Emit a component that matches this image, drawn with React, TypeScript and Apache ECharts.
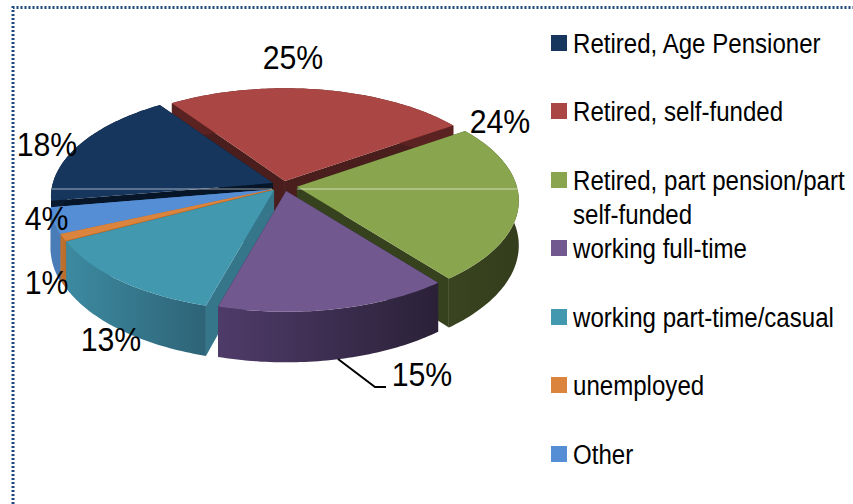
import React, { useEffect, useRef } from "react";
import * as echarts from "echarts";

const categories = [
  "Retired, Age Pensioner",
  "Retired, self-funded",
  "Retired, part pension/part\nself-funded",
  "working full-time",
  "working part-time/casual",
  "unemployed",
  "Other",
];
const shares = [18, 25, 24, 15, 13, 1, 4];

const topColors = ["#17365D", "#AA4643", "#89A54E", "#71588F", "#4198AF", "#DB843D", "#558ED5"];
const wallColors = ["#061628", "#4A1E1C", "#36411E", "#2E2440", "#35768A", "#B96C2C", "#4A7CB8"];
const outerLeft = ["#0A1A30", "#5A2220", "#3A4420", "#4F3B69", "#3C8AA0", "#C0722F", "#4A7CB8"];
const outerRight = ["#0A1A30", "#5A2220", "#343D1C", "#2A2138", "#2E6377", "#B96C2C", "#4A7CB8"];
const paintOrder = [1, 0, 2, 6, 5, 4, 3];
const labelCentres: number[][] = [
  [47, 144], [293, 57], [500, 121], [422, 374], [111, 339], [46.5, 282], [46.5, 218],
];
const legendRows = [43, 111, 180, 248, 317, 385, 454];
const sliceNudge: number[][] = [[-1, -1], [-1, 0], [2, 0], [0, 0], [-3, 0], [-1, 1], [-1, 2]];

const START = 260.5;
const CX = 284, CY = 186, RX = 220, RY = 105, K = 0.131, DEPTH = 44, EX = 11, EY = 5;
const FONT = "Liberation Sans, Arial, sans-serif";
const LEGEND_SQUEEZE = 0.86;
const LABEL_SQUEEZE = 0.89;

const total = shares.reduce((a, b) => a + b, 0);
const startAngles: number[] = [];
shares.reduce((acc, v, i) => {
  startAngles[i] = acc;
  return acc + (v / total) * 360;
}, START);

function project(deg: number, r: number, ox: number, oy: number, drop: boolean) {
  const a = (deg * Math.PI) / 180;
  const u = Math.sin(a) * r;
  const v = Math.cos(a) * r;
  const p = 1 / (1 + K * v);
  return [CX + ox + RX * u * p, CY + oy - RY * v * p + (drop ? DEPTH * p : 0)];
}

function renderSlice(params: any, api: any) {
  const i = params.dataIndex;
  const value = api.value(1);
  const sweep = (value / total) * 360;
  const a0 = startAngles[i];
  const mid = ((a0 + sweep / 2) * Math.PI) / 180;
  const ox = EX * Math.sin(mid) + sliceNudge[i][0];
  const oy = -EY * Math.cos(mid) + sliceNudge[i][1];
  const steps = Math.max(2, Math.ceil(sweep));
  const topArc: number[][] = [];
  const lowArc: number[][] = [];
  for (let s = 0; s <= steps; s++) {
    const d = a0 + (sweep * s) / steps;
    topArc.push(project(d, 1, ox, oy, false));
    lowArc.push(project(d, 1, ox, oy, true));
  }
  const apex = project(0, 0, ox, oy, false);
  const apexLow = project(0, 0, ox, oy, true);
  const z = paintOrder.indexOf(i) * 10;
  const wall = (pts: number[][], fill: any, z2: number) => ({
    type: "polygon",
    shape: { points: pts },
    style: { fill },
    z2,
    silent: true,
  });
  return {
    type: "group",
    children: [
      wall([apex, topArc[0], lowArc[0], apexLow], wallColors[i], z + 1),
      wall([apex, topArc[steps], lowArc[steps], apexLow], wallColors[i], z + 1),
      wall([...topArc, ...lowArc.slice().reverse()], {
        type: "linear", x: 0, y: 0, x2: 1, y2: 0,
        colorStops: [
          { offset: 0, color: outerLeft[i] },
          { offset: 1, color: outerRight[i] },
        ],
      }, z + 2),
      wall([apex, ...topArc], topColors[i], z + 3),
      {
        type: "text",
        x: labelCentres[i][0],
        y: labelCentres[i][1],
        scaleX: LABEL_SQUEEZE,
        z2: 200,
        style: {
          text: `${value}%`,
          fontFamily: FONT,
          fontSize: 34,
          fill: "#000",
          align: "center",
          verticalAlign: "middle",
        },
      },
    ],
  };
}

export default function App() {
  const ref = useRef<HTMLDivElement>(null);
  useEffect(() => {
    const chart = echarts.init(ref.current!, null, { renderer: "svg" });
    const legend: any[] = [];
    categories.forEach((name, i) => {
      legend.push({
        type: "rect",
        shape: { x: 551, y: legendRows[i] - 8, width: 16, height: 16 },
        style: { fill: topColors[i] },
      });
      legend.push({
        type: "text",
        x: 573,
        y: legendRows[i] - 17,
        scaleX: LEGEND_SQUEEZE,
        style: {
          text: name,
          fontFamily: FONT,
          fontSize: 28,
          lineHeight: 34,
          fill: "#000",
          align: "left",
          verticalAlign: "top",
        },
      });
    });
    chart.setOption({
      animation: false,
      backgroundColor: "#fff",
      series: [
        {
          type: "custom",
          coordinateSystem: "none",
          silent: true,
          clip: false,
          renderItem: renderSlice,
          data: shares.map((v, i) => [i, v]),
          encode: { value: 1 },
          z: 2,
        },
      ],
      graphic: {
        elements: [
          {
            type: "polyline",
            z: 1,
            shape: { points: [[13, 504], [13, 7.5], [853, 7.5]] },
            style: { stroke: "#1F497D", lineWidth: 3, lineDash: [2, 2], fill: "none" },
          },
          {
            type: "line",
            z: 5,
            shape: { x1: 52, y1: 189, x2: 272, y2: 189 },
            style: { stroke: "rgba(255,255,255,0.6)", lineWidth: 1 },
          },
          {
            type: "line",
            z: 5,
            shape: { x1: 297, y1: 189, x2: 519, y2: 189 },
            style: { stroke: "rgba(255,255,255,0.6)", lineWidth: 1 },
          },
          {
            type: "polyline",
            z: 5,
            shape: { points: [[338, 359], [375, 387], [386, 387]] },
            style: { stroke: "#000", lineWidth: 2, fill: "none" },
          },
          ...legend.map((e) => ({ ...e, z: 5 })),
        ],
      },
    });
    return () => chart.dispose();
  }, []);
  return (
    <div
      ref={ref}
      style={{ position: "fixed", left: 0, top: 0, width: 853, height: 504 }}
    />
  );
}
